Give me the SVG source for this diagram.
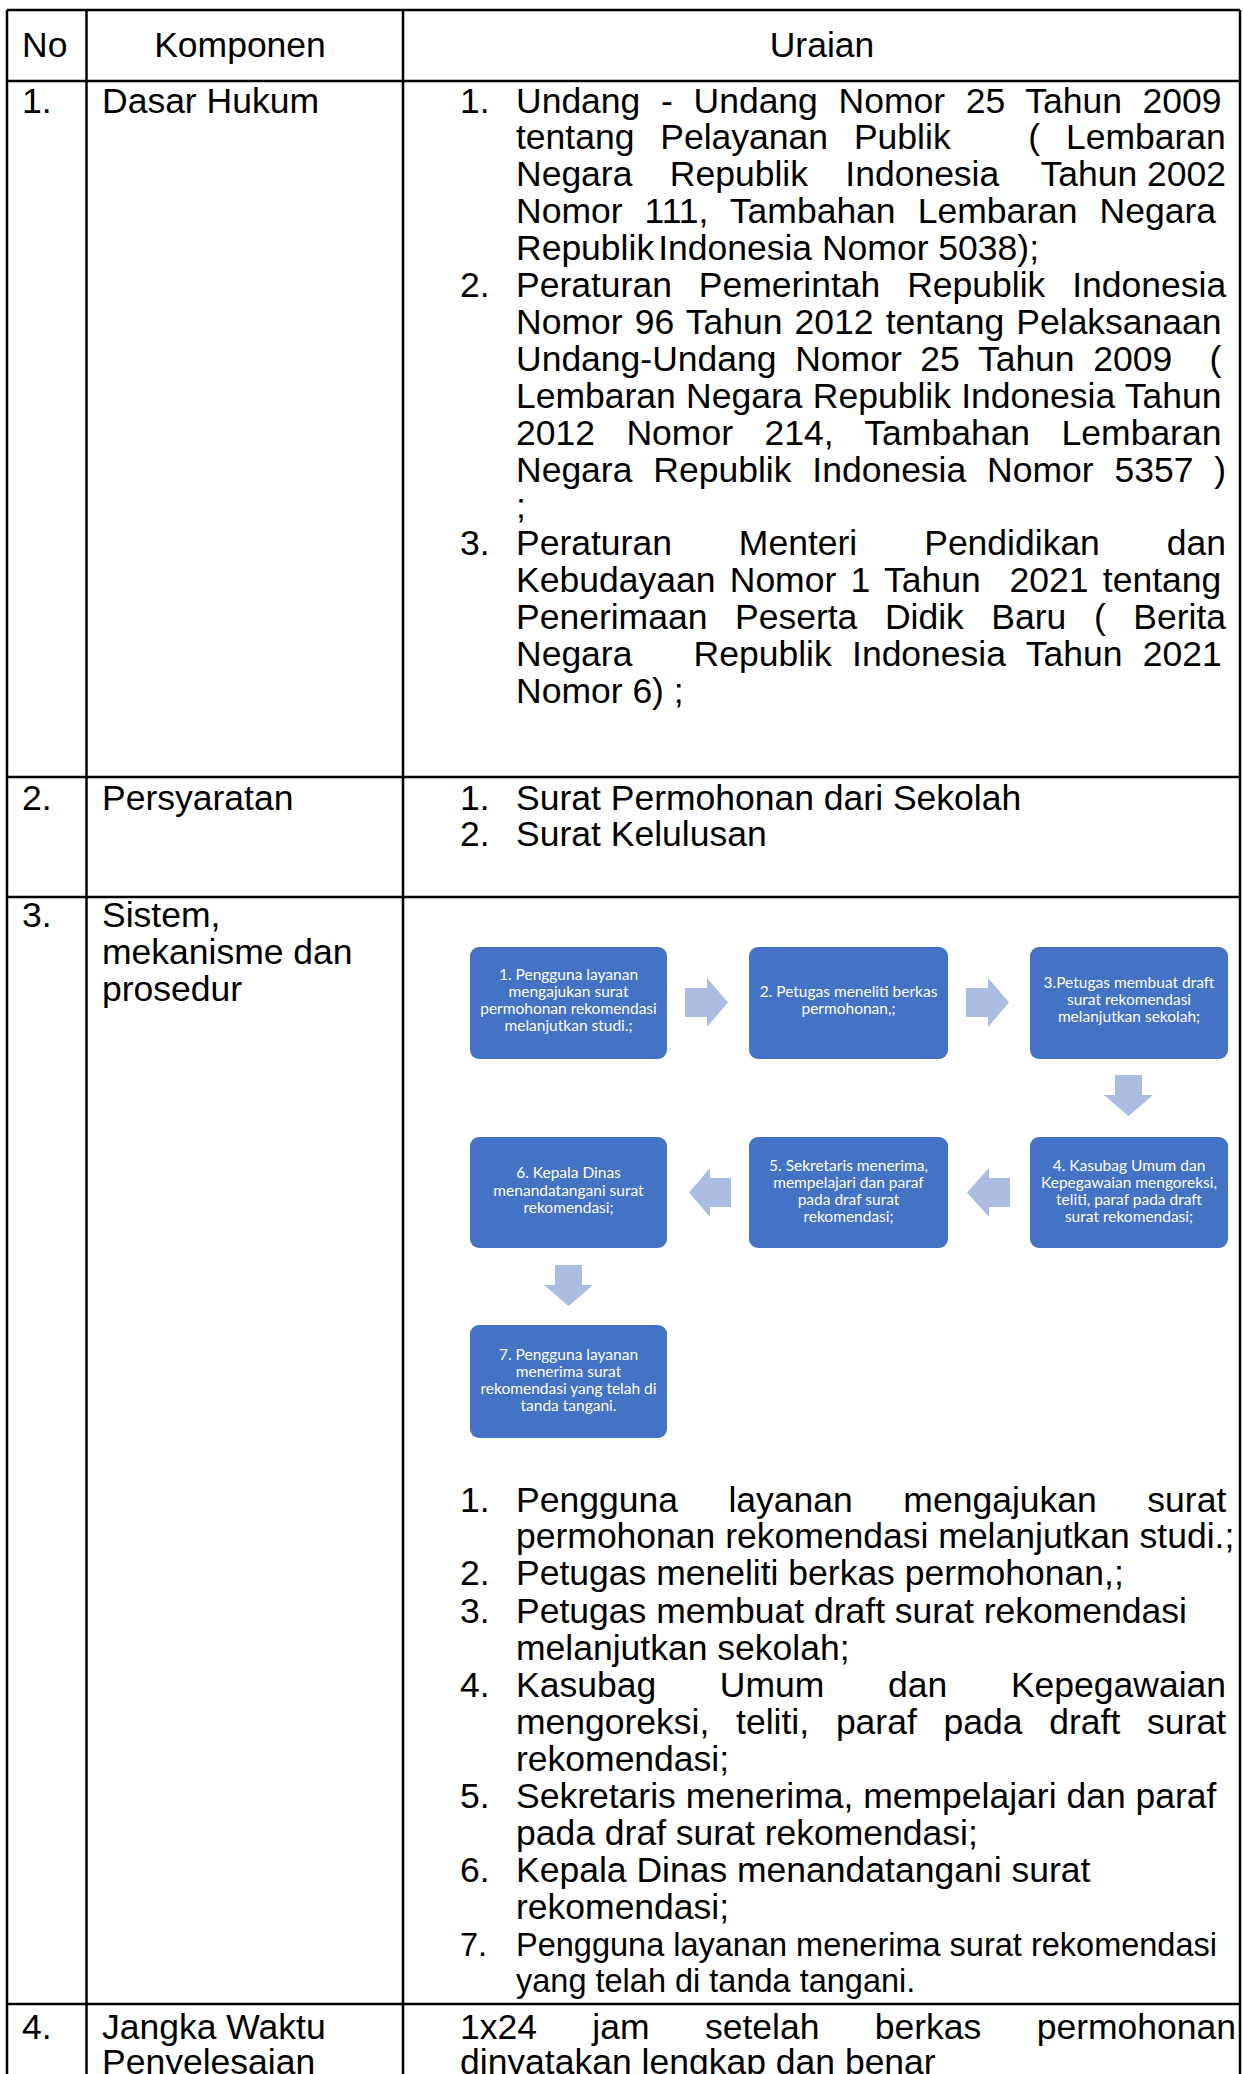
<svg xmlns="http://www.w3.org/2000/svg" width="1243" height="2074" viewBox="0 0 1243 2074">
<style>
.t{font-family:"Liberation Sans",Arial,sans-serif;font-size:35.5px;fill:#000}
.s{font-size:32.5px}
.m{text-anchor:middle}
.ln{stroke:#000;stroke-width:2.5;fill:none}
.bx{fill:#4472C4}
.bt{font-family:Lato,"Liberation Sans",sans-serif;font-size:15.5px;fill:#fff;text-anchor:middle}
.ar{fill:#ABBCE0}
</style>
<rect width="1243" height="2074" fill="#fff"/>
<g id="table-grid">
<line class="ln" x1="7" y1="10" x2="1240" y2="10"/>
<line class="ln" x1="7" y1="81" x2="1240" y2="81"/>
<line class="ln" x1="7" y1="777" x2="1240" y2="777"/>
<line class="ln" x1="7" y1="897" x2="1240" y2="897"/>
<line class="ln" x1="7" y1="2004" x2="1240" y2="2004"/>
<line class="ln" x1="7" y1="10" x2="7" y2="2074"/>
<line class="ln" x1="86.5" y1="10" x2="86.5" y2="2074"/>
<line class="ln" x1="403" y1="10" x2="403" y2="2074"/>
<line class="ln" x1="1240" y1="10" x2="1240" y2="2074"/>
</g>
<g id="header">
<text class="t" x="22" y="57">No</text>
<text class="t m" x="240" y="57">Komponen</text>
<text class="t m" x="822" y="57">Uraian</text>
</g>
<g id="row1">
<text class="t" x="22" y="112.5">1.</text>
<text class="t" x="102" y="112.5">Dasar Hukum</text>
<text class="t" x="460" y="112.5">1.</text>
<text class="t" x="516" y="112.5" word-spacing="10.8">Undang - Undang Nomor 25 Tahun 2009</text>
<text class="t" x="516" y="149.4" word-spacing="16" xml:space="preserve">tentang Pelayanan Publik   ( Lembaran</text>
<text class="t" x="516" y="186.3" word-spacing="27.5">Negara Republik Indonesia</text>
<text class="t" x="1226" y="186.3" text-anchor="end">Tahun 2002</text>
<text class="t" x="516" y="223.2" word-spacing="12.2">Nomor 111, Tambahan Lembaran Negara</text>
<text class="t" x="516" y="260.1">Republik<tspan dx="4">Indonesia Nomor 5038);</tspan></text>
<text class="t" x="460" y="297">2.</text>
<text class="t" x="516" y="297" word-spacing="17">Peraturan Pemerintah Republik Indonesia</text>
<text class="t" x="516" y="333.9" word-spacing="2.3">Nomor 96 Tahun 2012 tentang Pelaksanaan</text>
<text class="t" x="516" y="370.8" word-spacing="8.8" xml:space="preserve">Undang-Undang Nomor 25 Tahun 2009  (</text>
<text class="t" x="516" y="407.7" word-spacing="0.4">Lembaran Negara Republik Indonesia Tahun</text>
<text class="t" x="516" y="444.6" word-spacing="21.6">2012 Nomor 214, Tambahan Lembaran</text>
<text class="t" x="516" y="481.5" word-spacing="11">Negara Republik Indonesia Nomor 5357 )</text>
<text class="t" x="516" y="518.4">;</text>
<text class="t" x="460" y="555.3">3.</text>
<text class="t" x="516" y="555.3" word-spacing="57.1">Peraturan Menteri Pendidikan dan</text>
<text class="t" x="516" y="592.2" word-spacing="4.5" xml:space="preserve">Kebudayaan Nomor 1 Tahun  2021 tentang</text>
<text class="t" x="516" y="629.1" word-spacing="17.7">Penerimaan Peserta Didik Baru ( Berita</text>
<text class="t" x="516" y="666" word-spacing="10.5" xml:space="preserve">Negara   Republik Indonesia Tahun 2021</text>
<text class="t" x="516" y="702.9">Nomor 6) ;</text>
</g>
<g id="row2">
<text class="t" x="22" y="810">2.</text>
<text class="t" x="102" y="810">Persyaratan</text>
<text class="t" x="460" y="810">1.</text>
<text class="t" x="516" y="810">Surat Permohonan dari Sekolah</text>
<text class="t" x="460" y="846">2.</text>
<text class="t" x="516" y="846">Surat Kelulusan</text>
</g>
<g id="row3">
<text class="t" x="22" y="927">3.</text>
<text class="t" x="102" y="927">Sistem,</text>
<text class="t" x="102" y="964">mekanisme dan</text>
<text class="t" x="102" y="1001">prosedur</text>
<text class="t" x="460" y="1512">1.</text>
<text class="t" x="516" y="1512" word-spacing="40.7">Pengguna layanan mengajukan surat</text>
<text class="t" x="516" y="1548">permohonan rekomendasi melanjutkan studi.;</text>
<text class="t" x="460" y="1585">2.</text>
<text class="t" x="516" y="1585">Petugas meneliti berkas permohonan,;</text>
<text class="t" x="460" y="1623">3.</text>
<text class="t" x="516" y="1623">Petugas membuat draft surat rekomendasi</text>
<text class="t" x="516" y="1660">melanjutkan sekolah;</text>
<text class="t" x="460" y="1697">4.</text>
<text class="t" x="516" y="1697" word-spacing="53.8">Kasubag Umum dan Kepegawaian</text>
<text class="t" x="516" y="1734" word-spacing="16.9">mengoreksi, teliti, paraf pada draft surat</text>
<text class="t" x="516" y="1771">rekomendasi;</text>
<text class="t" x="460" y="1808">5.</text>
<text class="t" x="516" y="1808">Sekretaris menerima, mempelajari dan paraf</text>
<text class="t" x="516" y="1845">pada draf surat rekomendasi;</text>
<text class="t" x="460" y="1882">6.</text>
<text class="t" x="516" y="1882">Kepala Dinas menandatangani surat</text>
<text class="t" x="516" y="1919">rekomendasi;</text>
<text class="t s" x="460" y="1956">7.</text>
<text class="t s" x="516" y="1956">Pengguna layanan menerima surat rekomendasi</text>
<text class="t s" x="516" y="1992">yang telah di tanda tangani.</text>
</g>
<g id="row4">
<text class="t" x="22" y="2039">4.</text>
<text class="t" x="102" y="2039">Jangka Waktu</text>
<text class="t" x="102" y="2074">Penyelesaian</text>
<text class="t" x="460" y="2039" word-spacing="45.5">1x24 jam setelah berkas permohonan</text>
<text class="t" x="460" y="2074">dinyatakan lengkap dan benar</text>
</g>
<g id="connectors">
<polygon class="ar" points="685,988 707,988 707,978 728,1002.5 707,1027 707,1017 685,1017"/>
<polygon class="ar" points="966,988 988,988 988,978 1009,1002.5 988,1027 988,1017 966,1017"/>
<polygon class="ar" points="1115,1075 1142,1075 1142,1095 1153,1095 1128.5,1116 1104,1095 1115,1095"/>
<polygon class="ar" points="1010,1178 989,1178 989,1168 967,1192.5 989,1217 989,1207 1010,1207"/>
<polygon class="ar" points="731,1178 710,1178 710,1168 689,1192.5 710,1217 710,1207 731,1207"/>
<polygon class="ar" points="555,1265 582,1265 582,1285 593,1285 568.5,1306 544,1285 555,1285"/>
</g>
<g id="step1">
<rect class="bx" x="470" y="947" width="197" height="112" rx="9"/>
<text class="bt" x="568.5" y="980">1. Pengguna layanan</text>
<text class="bt" x="568.5" y="997">mengajukan surat</text>
<text class="bt" x="568.5" y="1014">permohonan rekomendasi</text>
<text class="bt" x="568.5" y="1031">melanjutkan studi.;</text>
</g>
<g id="step2">
<rect class="bx" x="749" y="947" width="199" height="112" rx="9"/>
<text class="bt" x="848.5" y="997">2. Petugas meneliti berkas</text>
<text class="bt" x="848.5" y="1014">permohonan,;</text>
</g>
<g id="step3">
<rect class="bx" x="1030" y="947" width="198" height="112" rx="9"/>
<text class="bt" x="1129" y="988">3.Petugas membuat draft</text>
<text class="bt" x="1129" y="1005">surat rekomendasi</text>
<text class="bt" x="1129" y="1022">melanjutkan sekolah;</text>
</g>
<g id="step4">
<rect class="bx" x="1030" y="1137" width="198" height="111" rx="9"/>
<text class="bt" x="1129" y="1171">4. Kasubag Umum dan</text>
<text class="bt" x="1129" y="1188">Kepegawaian mengoreksi,</text>
<text class="bt" x="1129" y="1205">teliti, paraf pada draft</text>
<text class="bt" x="1129" y="1222">surat rekomendasi;</text>
</g>
<g id="step5">
<rect class="bx" x="749" y="1137" width="199" height="111" rx="9"/>
<text class="bt" x="848.5" y="1171">5. Sekretaris menerima,</text>
<text class="bt" x="848.5" y="1188">mempelajari dan paraf</text>
<text class="bt" x="848.5" y="1205">pada draf surat</text>
<text class="bt" x="848.5" y="1222">rekomendasi;</text>
</g>
<g id="step6">
<rect class="bx" x="470" y="1137" width="197" height="111" rx="9"/>
<text class="bt" x="568.5" y="1178">6. Kepala Dinas</text>
<text class="bt" x="568.5" y="1196">menandatangani surat</text>
<text class="bt" x="568.5" y="1213">rekomendasi;</text>
</g>
<g id="step7">
<rect class="bx" x="470" y="1325" width="197" height="113" rx="9"/>
<text class="bt" x="568.5" y="1360">7. Pengguna layanan</text>
<text class="bt" x="568.5" y="1377">menerima surat</text>
<text class="bt" x="568.5" y="1394">rekomendasi yang telah di</text>
<text class="bt" x="568.5" y="1411">tanda tangani.</text>
</g>
</svg>
